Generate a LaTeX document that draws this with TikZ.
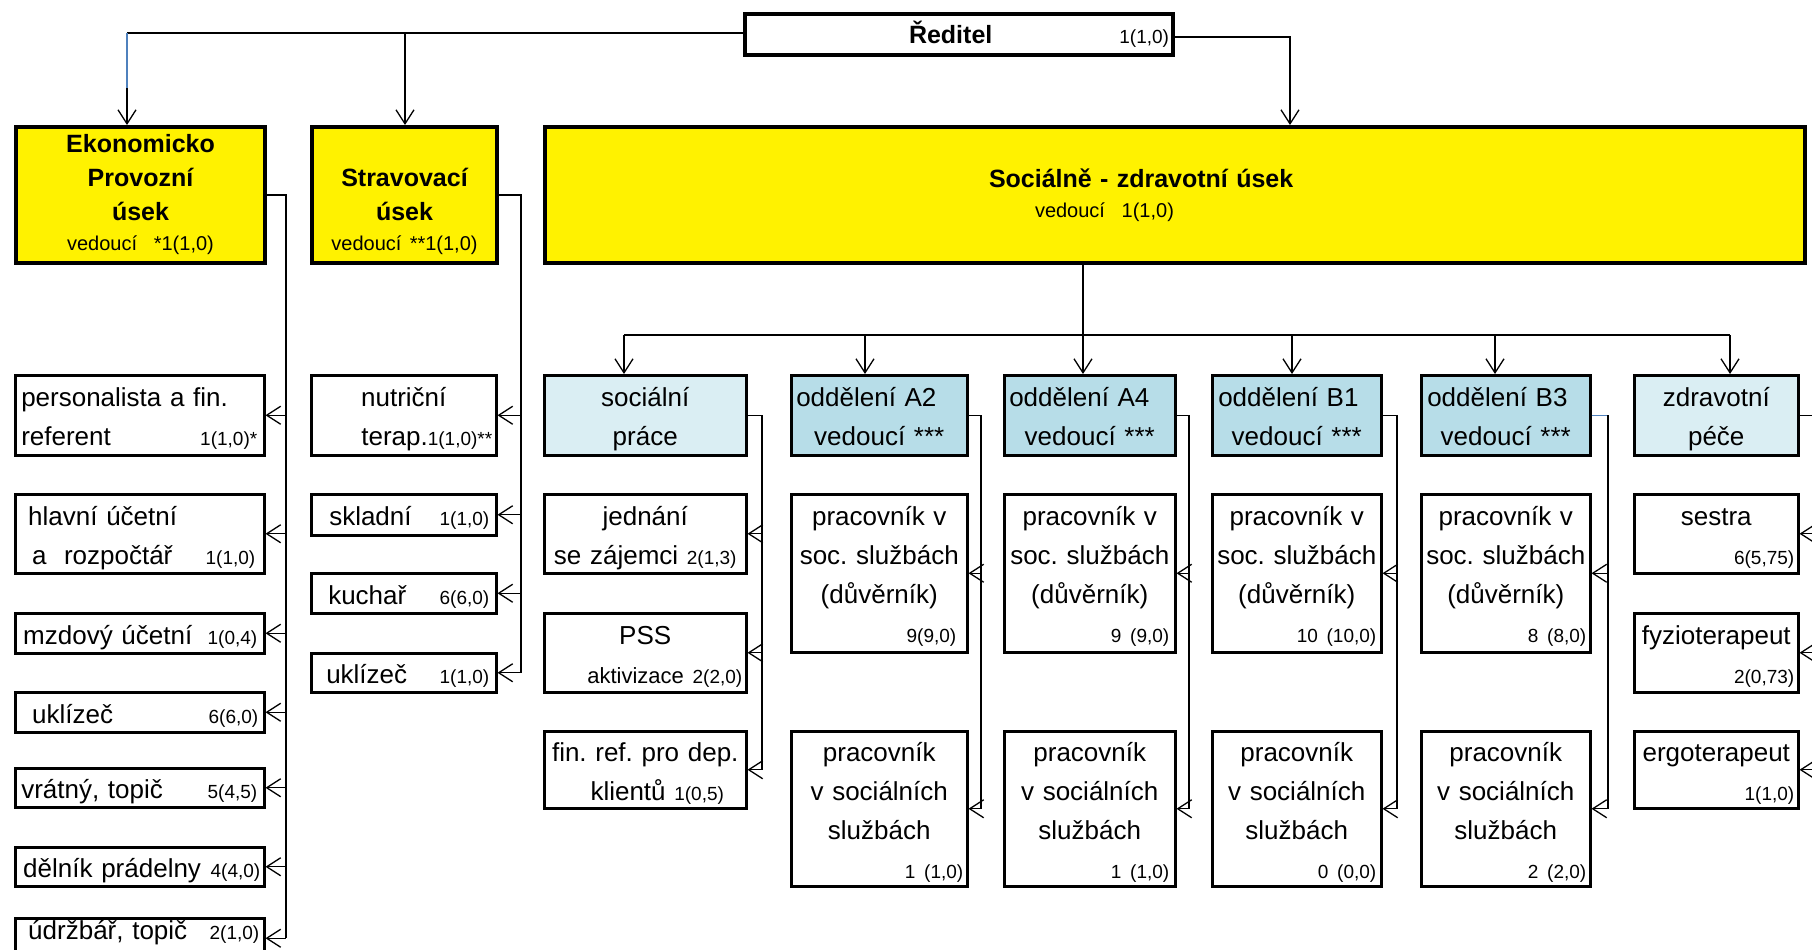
\documentclass[tikz,border=0pt]{standalone}
\usepackage{fontspec}
\setmainfont{Liberation Sans}
\usetikzlibrary{arrows.meta}
\definecolor{lblue}{HTML}{DAEEF3}
\definecolor{dblue}{HTML}{B7DDE8}
\definecolor{lineblue}{HTML}{4F81BD}
\newcommand{\mytxt}{\fontsize{26}{39}\selectfont}
\newcommand{\mysmall}{\fontsize{19}{23}\selectfont}
\newcommand{\mybold}{\fontsize{25}{34}\selectfont\bfseries}
\newcommand{\myved}{\fontsize{20}{24}\selectfont\mdseries}
\newcommand{\fst}{\rule{0pt}{30pt}}
\newcommand{\lst}{\rule[-8pt]{0pt}{0pt}}
\newcommand{\rsp}[1]{\hspace*{#1}\null}
\newcommand{\ctr}[1]{\hspace*{\fill}#1\hspace*{\fill}\null}
\newcommand{\mkbox}[6]{\node[#1, minimum width=#4pt, minimum height=#5pt, text width=\the\numexpr#4-8\relax pt] (#2) at (#3) {#6};}
\tikzset{
  conn/.style={line width=1.3pt},
  arr/.style={line width=1.3pt, -{Straight Barb[length=14pt,width=18pt]}},
  wb/.style={draw, line width=2.5pt, fill=white, anchor=north west, inner xsep=4pt, inner ysep=0pt, font=\mytxt, align=left},
  lb/.style={wb, fill=lblue},
  db/.style={wb, fill=dblue},
  yb/.style={wb, line width=4pt, fill=yellow, font=\mybold, align=center},
}
\begin{document}
\frenchspacing
\begin{tikzpicture}[x=1pt, y=-1pt]
\useasboundingbox (0,0) rectangle (1812,950);
\fill[white] (0,0) rectangle (1812,950);
\clip (0,0) rectangle (1812,950);

% top level
\mkbox{wb, line width=4pt}{red}{743,12}{428}{41}{\hspace*{160pt}{\mybold Ředitel}\hfill{\mysmall 1(1,0)}}
\mkbox{yb}{ekon}{14,125}{249}{136}{Ekonomicko\\Provozní\\úsek\\[-4pt]{\myved vedoucí\ \ *1(1,0)}}
\mkbox{yb}{strav}{310,125}{185}{136}{\vphantom{Ek}\\Stravovací\\úsek\\[-4pt]{\myved vedoucí **1(1,0)}}
\mkbox{yb, align=left}{szu}{543,125}{1260}{136}{\hspace*{440pt}Sociálně - zdravotní úsek\\[-4pt]\hspace*{486pt}{\myved vedoucí\ \ 1(1,0)}}

% Ekonomicko children
\mkbox{wb}{ep1}{14,374}{249}{80}{\fst\hspace*{2pt}personalista a fin.\\\hspace*{2pt}referent\hfill{\mysmall 1(1,0)*}\rsp{3pt}\lst}
\mkbox{wb}{ep2}{14,493}{249}{79}{\fst\hspace*{9pt}hlavní účetní\\\hspace*{13pt}a\ \ rozpočtář\hfill{\mysmall 1(1,0)}\rsp{5pt}\lst}
\mkbox{wb}{ep3}{14,612}{249}{40}{\fst\hspace*{4pt}mzdový účetní\hfill{\mysmall 1(0,4)}\rsp{3pt}\lst}
\mkbox{wb}{ep4}{14,691}{249}{40}{\fst\hspace*{13pt}uklízeč\hfill{\mysmall 6(6,0)}\rsp{2pt}\lst}
\mkbox{wb}{ep5}{14,767}{249}{39}{\fst\hspace*{2pt}vrátný, topič\hfill{\mysmall 5(4,5)}\rsp{3pt}\lst}
\mkbox{wb}{ep6}{14,846}{249}{39}{\fst\hspace*{4pt}dělník prádelny\hfill{\mysmall 4(4,0)}\lst}
\mkbox{wb}{ep7}{14,917}{249}{40}{\hspace*{9pt}údržbář, topič\hfill{\mysmall 2(1,0)}\rsp{1pt}\rule[-16pt]{0pt}{0pt}}

% Stravovaci children
\mkbox{wb}{sp1}{310,374}{185}{80}{\fst\ctr{nutriční}\\\hspace*{\fill}terap.{\mysmall 1(1,0)**}\lst}
\mkbox{wb}{sp2}{310,493}{185}{41}{\fst\hspace*{14pt}skladní\hfill{\mysmall 1(1,0)}\rsp{3pt}\lst}
\mkbox{wb}{sp3}{310,572}{185}{40}{\fst\hspace*{13pt}kuchař\hfill{\mysmall 6(6,0)}\rsp{3pt}\lst}
\mkbox{wb}{sp4}{310,652}{185}{39}{\fst\hspace*{11pt}uklízeč\hfill{\mysmall 1(1,0)}\rsp{3pt}\lst}

% Socialne-zdravotni headers
\mkbox{lb}{s0}{543,374}{202}{80}{\fst\ctr{sociální}\\\ctr{práce}\lst}
\mkbox{db}{a2}{790,374}{176}{80}{\fst\hspace*{1pt}oddělení A2\\\ctr{vedoucí ***}\lst}
\mkbox{db}{a4}{1003,374}{171}{80}{\fst\hspace*{1pt}oddělení A4\\\ctr{vedoucí ***}\lst}
\mkbox{db}{b1}{1211,374}{169}{80}{\fst\hspace*{2pt}oddělení B1\\\ctr{vedoucí ***}\lst}
\mkbox{db}{b3}{1420,374}{169}{80}{\fst\hspace*{2pt}oddělení B3\\\ctr{vedoucí ***}\lst}
\mkbox{lb}{zp}{1633,374}{164}{80}{\fst\ctr{zdravotní}\\\ctr{péče}\lst}

% socialni prace children
\mkbox{wb}{sc1}{543,493}{202}{79}{\fst\ctr{jednání}\\\ctr{se zájemci {\mysmall 2(1,3)}}\lst}
\mkbox{wb}{sc2}{543,612}{202}{79}{\fst\ctr{PSS}\\\hspace*{\fill}{\fontsize{22}{26}\selectfont aktivizace} {\mysmall 2(2,0)}\lst}
\mkbox{wb}{sc3}{543,730}{202}{75}{\fst\ctr{fin. ref. pro dep.}\\\ctr{\hspace*{24pt}klientů {\mysmall 1(0,5)}}\lst}

% workers
\mkbox{wb}{w2a}{790,493}{176}{158}{\fst\ctr{pracovník v}\\\ctr{soc. službách}\\\ctr{(důvěrník)}\\\hspace*{\fill}{\mysmall 9(9,0)}\rsp{7pt}\lst}
\mkbox{wb}{w2b}{790,730}{176}{155}{\fst\ctr{pracovník}\\\ctr{v sociálních}\\\ctr{službách}\\\hspace*{\fill}{\mysmall 1 (1,0)}\lst}
\mkbox{wb}{w4a}{1003,493}{171}{158}{\fst\ctr{pracovník v}\\\ctr{soc. službách}\\\ctr{(důvěrník)}\\\hspace*{\fill}{\mysmall 9 (9,0)}\rsp{2pt}\lst}
\mkbox{wb}{w4b}{1003,730}{171}{155}{\fst\ctr{pracovník}\\\ctr{v sociálních}\\\ctr{službách}\\\hspace*{\fill}{\mysmall 1 (1,0)}\rsp{2pt}\lst}
\mkbox{wb}{w1a}{1211,493}{169}{158}{\fst\ctr{pracovník v}\\\ctr{soc. službách}\\\ctr{(důvěrník)}\\\hspace*{\fill}{\mysmall 10 (10,0)}\rsp{1pt}\lst}
\mkbox{wb}{w1b}{1211,730}{169}{155}{\fst\ctr{pracovník}\\\ctr{v sociálních}\\\ctr{službách}\\\hspace*{\fill}{\mysmall 0 (0,0)}\rsp{1pt}\lst}
\mkbox{wb}{w3a}{1420,493}{169}{158}{\fst\ctr{pracovník v}\\\ctr{soc. službách}\\\ctr{(důvěrník)}\\\hspace*{\fill}{\mysmall 8 (8,0)}\lst}
\mkbox{wb}{w3b}{1420,730}{169}{155}{\fst\ctr{pracovník}\\\ctr{v sociálních}\\\ctr{službách}\\\hspace*{\fill}{\mysmall 2 (2,0)}\lst}

% zdravotni pece children
\mkbox{wb}{z1}{1633,493}{164}{79}{\fst\ctr{sestra}\\\hspace*{\fill}{\mysmall 6(5,75)}\lst}
\mkbox{wb}{z2}{1633,612}{164}{79}{\fst\ctr{fyzioterapeut}\\\hspace*{\fill}{\mysmall 2(0,73)}\lst}
\mkbox{wb}{z3}{1633,730}{164}{75}{\fst\ctr{ergoterapeut}\\\hspace*{\fill}{\mysmall 1(1,0)}\lst}

% ---- connectors: top
\coordinate (bl) at (127,33);
\coordinate (bs) at (405,33);
\coordinate (br) at (1290,37);
\draw[conn] (red.west |- bl) -- (bl);
\draw[arr] (bl) -- (bl |- ekon.north);
\draw[conn, lineblue] (bl) -- ++(0,55);
\draw[arr] (bs) -- (bs |- strav.north);
\draw[arr] (red.east |- br) -- (br) -- (br |- szu.north);

% Ekonomicko trunk
\coordinate (et) at (286,0);
\draw[conn] (ekon.east) -| (et |- ep7.east);
\foreach \n in {ep1,ep2,ep3,ep4,ep5,ep6,ep7} \draw[arr] (et |- \n.east) -- (\n.east);

% Stravovaci trunk
\coordinate (st) at (521,0);
\draw[conn] (strav.east) -| (st |- sp4.east);
\foreach \n in {sp1,sp2,sp3,sp4} \draw[arr] (st |- \n.east) -- (\n.east);

% Socialne-zdravotni bus
\coordinate (sx) at (1083,335);
\coordinate (ba) at (624,335);
\coordinate (bb) at (865,335);
\coordinate (bc) at (1292,335);
\coordinate (bd) at (1495,335);
\coordinate (be) at (1730,335);
\draw[arr] (szu.south -| sx) -- (sx |- a4.north);
\draw[conn] (ba) -- (be);
\draw[arr] (ba) -- (ba |- s0.north);
\draw[arr] (bb) -- (bb |- a2.north);
\draw[arr] (bc) -- (bc |- b1.north);
\draw[arr] (bd) -- (bd |- b3.north);
\draw[arr] (be) -- (be |- zp.north);

% sub trunks
\coordinate (t0) at (762,0);
\draw[conn] (s0.east) -| (t0 |- sc3.east);
\foreach \n in {sc1,sc2,sc3} \draw[arr] (t0 |- \n.east) -- (\n.east);
\coordinate (t1) at (981,0);
\draw[conn] (a2.east) -| (t1 |- w2b.east);
\foreach \n in {w2a,w2b} \draw[arr] (t1 |- \n.east) -- (\n.east);
\coordinate (t2) at (1189,0);
\draw[conn] (a4.east) -| (t2 |- w4b.east);
\foreach \n in {w4a,w4b} \draw[arr] (t2 |- \n.east) -- (\n.east);
\coordinate (t3) at (1397,0);
\draw[conn] (b1.east) -| (t3 |- w1b.east);
\foreach \n in {w1a,w1b} \draw[arr] (t3 |- \n.east) -- (\n.east);
\coordinate (t4) at (1608,0);
\draw[conn, lineblue] (b3.east) -- (t4 |- b3.east);
\draw[conn] (t4 |- b3.east) -- (t4 |- w3b.east);
\foreach \n in {w3a,w3b} \draw[arr] (t4 |- \n.east) -- (\n.east);
\coordinate (t5) at (1818,0);
\draw[conn] (zp.east) -| (t5 |- z3.east);
\foreach \n in {z1,z2,z3} \draw[arr] (t5 |- \n.east) -- (\n.east);
\end{tikzpicture}
\end{document}
